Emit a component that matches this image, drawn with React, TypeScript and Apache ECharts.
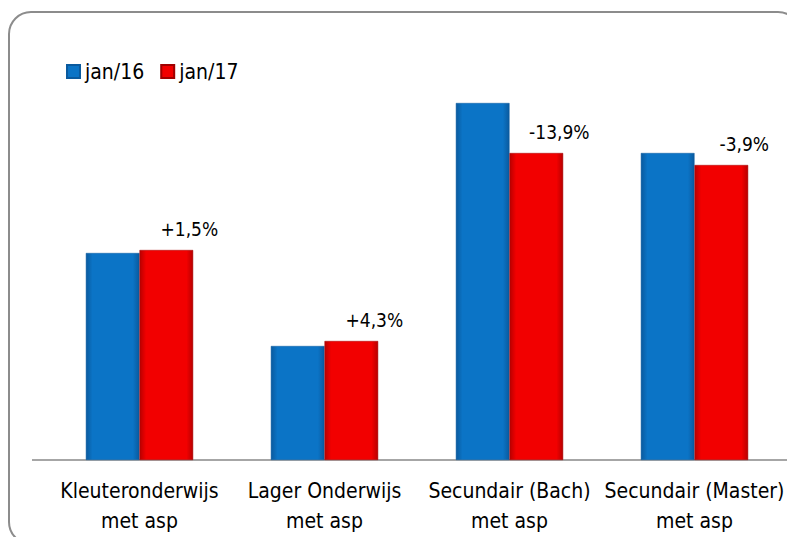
import React, { useEffect, useRef } from "react";
import * as echarts from "echarts";

const categories = [
  "Kleuteronderwijs\nmet asp",
  "Lager Onderwijs\nmet asp",
  "Secundair (Bach)\nmet asp",
  "Secundair (Master)\nmet asp",
];
const seriesNames = ["jan/16", "jan/17"];
const jan16 = [207, 114, 357, 307];
const jan17 = [210, 119, 307, 295];
const changeLabels = ["+1,5%", "+4,3%", "-13,9%", "-3,9%"];

const FONT = "'Liberation Sans Narrow', 'DejaVu Sans Condensed', 'Liberation Sans', sans-serif";

const blueGrad = new echarts.graphic.LinearGradient(0, 0, 1, 0, [
  { offset: 0, color: "#0a5a9e" },
  { offset: 0.12, color: "#0b74c6" },
  { offset: 0.88, color: "#0b74c6" },
  { offset: 1, color: "#0a5a9e" },
]);
const redGrad = new echarts.graphic.LinearGradient(0, 0, 1, 0, [
  { offset: 0, color: "#b80000" },
  { offset: 0.12, color: "#f20000" },
  { offset: 0.88, color: "#f20000" },
  { offset: 1, color: "#b80000" },
]);

export default function App() {
  const ref = useRef<HTMLDivElement>(null);
  useEffect(() => {
    if (!ref.current) return;
    const chart = echarts.init(ref.current, undefined, { renderer: "svg" });
    chart.setOption({
      animation: false,
      backgroundColor: "#ffffff",
      textStyle: { fontFamily: FONT },
      graphic: [
        {
          type: "rect",
          shape: { x: 9, y: 12, width: 791, height: 532, r: 22 },
          style: { fill: "none", stroke: "#8c8c8c", lineWidth: 2 },
          silent: true,
        },
        {
          type: "line",
          shape: { x1: 32, y1: 460, x2: 48, y2: 460 },
          style: { stroke: "#a6a6a6", lineWidth: 2 },
          silent: true,
        },
      ],
      legend: {
        left: 66,
        top: 61,
        padding: 0,
        itemWidth: 13,
        itemHeight: 13,
        itemGap: 16,
        icon: "rect",
        textStyle: { fontSize: 21, color: "#000", fontFamily: FONT },
        data: seriesNames,
      },
      grid: { left: 47, right: -5, top: 60, bottom: 77, containLabel: false },
      xAxis: {
        type: "category",
        data: categories,
        axisLine: { show: true, lineStyle: { color: "#a6a6a6", width: 2 } },
        axisTick: { show: false },
        axisLabel: {
          interval: 0,
          fontSize: 21,
          lineHeight: 30,
          margin: 16,
          color: "#000",
          fontFamily: FONT,
        },
      },
      yAxis: {
        type: "value",
        min: 0,
        max: 400,
        show: false,
        splitLine: { show: false },
      },
      series: [
        {
          name: seriesNames[0],
          type: "bar",
          data: jan16,
          barGap: "0%",
          barCategoryGap: "42%",
          itemStyle: { color: blueGrad, borderColor: "#0a5a9e", borderWidth: 0.5 },
        },
        {
          name: seriesNames[1],
          type: "bar",
          data: jan17,
          barGap: "0%",
          barCategoryGap: "42%",
          itemStyle: { color: redGrad, borderColor: "#a00000", borderWidth: 0.5 },
          label: {
            show: true,
            position: "top",
            distance: 12,
            offset: [23, 0],
            fontSize: 19,
            color: "#000",
            fontFamily: FONT,
            formatter: (p: any) => changeLabels[p.dataIndex],
          },
        },
      ],
    });
    return () => chart.dispose();
  }, []);
  return (
    <div
      ref={ref}
      style={{ position: "fixed", left: 0, top: 0, width: 787, height: 537 }}
    />
  );
}
